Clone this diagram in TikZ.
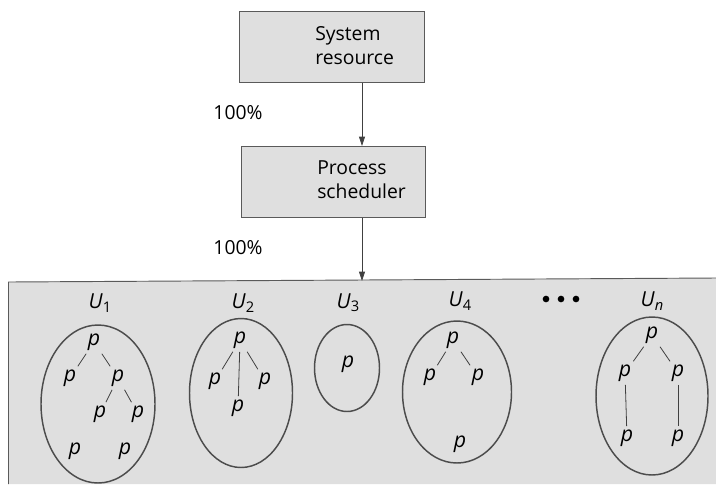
\documentclass[tikz,border=0pt]{standalone}
\usepackage{fontspec}
\setmainfont{Open Sans}
\usetikzlibrary{shapes.geometric,arrows.meta}
\definecolor{boxfill}{HTML}{DFDFDF}
\definecolor{boxline}{HTML}{5A5A5A}
\newcommand{\usr}[1]{\textit{U}\raisebox{-0.3ex}{\fontsize{11}{12}\selectfont #1}}
\begin{document}
\begin{tikzpicture}[x=0.75pt,y=-0.75pt,
  box/.style={draw=boxline,line width=0.7pt,fill=boxfill},
  boxtext/.style={font=\fontsize{14.5}{18}\selectfont,align=left,inner sep=0pt},
  pct/.style={font=\fontsize{14.5}{18}\selectfont,inner sep=0pt},
  flow/.style={draw=black!75,line width=0.5pt,-{Triangle[length=7pt,width=4.5pt]}},
  user/.style={ellipse,draw=black!70,line width=1.1pt,inner sep=0pt},
  ulabel/.style={font=\fontsize{15.5}{17}\selectfont,inner sep=0pt},
  proc/.style={font=\fontsize{16}{17}\selectfont\itshape,inner sep=1.5pt},
  link/.style={draw=black!75,line width=0.6pt,shorten <=1pt,shorten >=1pt},
  dot/.style={circle,fill=black,inner sep=0pt,minimum size=5pt}]
\useasboundingbox (0,0) rectangle (716,486);

% top boxes
\node[box,minimum width=139pt,minimum height=53pt,anchor=north west] (sys) at (239,11) {};
\node[boxtext,anchor=west] (systext) at (315,46) {System\\resource};
\node[box,minimum width=138pt,minimum height=53pt,anchor=north west] (ps) at (241,146) {};
\node[boxtext,anchor=west] (pstext) at (317,180) {Process\\scheduler};

% bottom box
\fill[boxfill] (8.5,282) -- (716,278) -- (716,484) -- (8.5,484) -- cycle;
\draw[draw=boxline,line width=0.7pt] (716,278) -- (8.5,282) -- (8.5,484);
\coordinate (bottomtop) at (362,281);

\node[pct] (p1) at (238,113) {100\%};
\node[pct] (p2) at (238,248) {100\%};

\draw[flow] (sys.south -| 362,0) -- (ps.north -| 362,0);
\draw[flow] (ps.south -| 362,0) -- (bottomtop);

% users
\node[user,minimum width=114pt*0.75,minimum height=158pt*0.75] (U1) at (98,404) {};
\node[user,minimum width=103pt*0.75,minimum height=149pt*0.75] (U2) at (241,393) {};
\node[user,minimum width=65pt*0.75,minimum height=87pt*0.75] (U3) at (347,368) {};
\node[user,minimum width=109pt*0.75,minimum height=142pt*0.75] (U4) at (457,392) {};
\node[user,minimum width=112pt*0.75,minimum height=158pt*0.75] (Un) at (652,396) {};

\node[ulabel] (L1) at (100,303) {\usr{1}};
\node[ulabel] (L2) at (243,303) {\usr{2}};
\node[ulabel] (L3) at (348,303) {\usr{3}};
\node[ulabel] (L4) at (460,301) {\usr{4}};
\node[ulabel] (Ln) at (652,301) {\usr{\textit{n}}};

\node[dot] (d1) at (546,299) {};
\node[dot] (d2) at (561,299) {};
\node[dot] (d3) at (576,299) {};

% U1 processes
\node[proc] (a0) at (94,342) {p};
\node[proc] (a1) at (70,378) {p};
\node[proc] (a2) at (118,378) {p};
\node[proc] (a3) at (100,414) {p};
\node[proc] (a4) at (138,414) {p};
\node[proc] (a5) at (75,451) {p};
\node[proc] (a6) at (125,451) {p};
\draw[link] (a0) -- (a1);
\draw[link] (a0) -- (a2);
\draw[link] (a2) -- (a3);
\draw[link] (a2) -- (a4);

% U2
\node[proc] (b0) at (240,340) {p};
\node[proc] (b1) at (215,381) {p};
\node[proc] (b2) at (265,381) {p};
\node[proc] (b3) at (238,408) {p};
\draw[link] (b0) -- (b1);
\draw[link] (b0) -- (b2);
\draw[link] (b0) -- (b3);

% U3
\node[proc] (c0) at (348,364) {p};

% U4
\node[proc] (e0) at (453,340) {p};
\node[proc] (e1) at (430,377) {p};
\node[proc] (e2) at (478,377) {p};
\node[proc] (e3) at (460,444) {p};
\draw[link] (e0) -- (e1);
\draw[link] (e0) -- (e2);

% Un
\node[proc] (f0) at (652,335) {p};
\node[proc] (f1) at (625,373) {p};
\node[proc] (f2) at (678,373) {p};
\node[proc] (f3) at (627,438) {p};
\node[proc] (f4) at (678,438) {p};
\draw[link] (f0) -- (f1);
\draw[link] (f0) -- (f2);
\draw[link] (f1) -- (f3);
\draw[link] (f2) -- (f4);
\end{tikzpicture}
\end{document}
